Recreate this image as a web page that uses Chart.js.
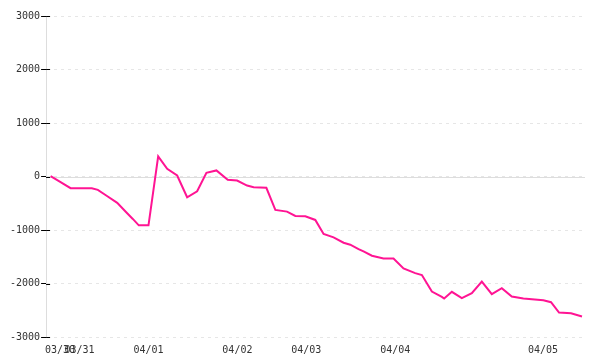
<!DOCTYPE html>
<html>
<head>
<meta charset="utf-8">
<script src="https://cdn.jsdelivr.net/npm/chart.js@4"></script>
<style>
  html, body { margin: 0; padding: 0; background: #fff; }
  #wrap { width: 600px; height: 360px; }
</style>
</head>
<body>
<div id="wrap"><canvas id="balance"></canvas></div>
<script>
// sample positions along the x axis
const xPos = [0, 1, 2, 4.13, 4.73, 5.57, 6.67, 7.57, 8.23, 8.83, 9.8, 10.77, 11.67, 12.67, 13.67, 14.67,
  15.6, 16.6, 17.73, 18.67, 19.67, 20.33, 21.6, 22.5, 23.67, 24.5, 25.5, 26.5, 27.33, 28.33, 29.33,
  30, 30.83, 31.33, 32.17, 33.33, 34.33, 35.33, 36.5, 37.17, 38.17, 39.17, 39.4, 40.17, 41.17, 42.17,
  43.17, 44.17, 45.17, 46.17, 47.33, 49.33, 50.1, 50.9, 52.1, 53.2];
// running value
const balance = [5, -107, -219, -219, -249, -356, -493, -669, -793, -913, -913, 375, 144, 19, -388, -276,
  69, 113, -62, -75, -169, -201, -212, -624, -656, -737, -744, -812, -1074, -1138, -1238,
  -1275, -1356, -1401, -1481, -1532, -1532, -1719, -1806, -1843, -2151, -2250, -2282, -2156, -2274, -2181,
  -1963, -2199, -2087, -2244, -2282, -2312, -2349, -2544, -2556, -2616];
// day labels and where they sit on the x axis
const tickPos = [0.95, 2.9, 9.8, 18.7, 25.6, 34.5, 49.3];
const tickLabels = ['03/30', '03/31', '04/01', '04/02', '04/03', '04/04', '04/05'];
const yTicks = [-3000, -2000, -1000, 0, 1000, 2000, 3000];

const FONT = { family: 'DejaVu Sans Mono', size: 10 };

// solid zero line + small black ticks across the y axis
const axisMarks = {
  id: 'axisMarks',
  beforeDatasetsDraw(chart) {
    const { ctx, chartArea, scales: { y } } = chart;
    ctx.save();
    const y0 = Math.round(y.getPixelForValue(0)) + 0.5;
    ctx.strokeStyle = '#dddddd';
    ctx.lineWidth = 1;
    ctx.beginPath();
    ctx.moveTo(chartArea.left, y0);
    ctx.lineTo(chartArea.right, y0);
    ctx.stroke();
    ctx.strokeStyle = '#000';
    yTicks.forEach(v => {
      const py = Math.round(y.getPixelForValue(v)) + 0.5;
      ctx.beginPath();
      ctx.moveTo(chartArea.left, py);
      ctx.lineTo(chartArea.left + 4, py);
      ctx.stroke();
    });
    ctx.restore();
  }
};

new Chart(document.getElementById('balance').getContext('2d'), {
  type: 'line',
  data: {
    datasets: [{
      data: xPos.map((x, i) => ({ x, y: balance[i] })),
      borderColor: '#ff1493',
      borderWidth: 2,
      pointRadius: 0,
      tension: 0,
      fill: false
    }]
  },
  options: {
    responsive: true,
    maintainAspectRatio: false,
    animation: false,
    layout: { padding: { left: 9, right: 15, top: 16, bottom: -3 } },
    plugins: { legend: { display: false }, tooltip: { enabled: false } },
    scales: {
      x: {
        type: 'linear',
        bounds: 'data',
        min: -0.45,
        max: 53.5,
        grid: { display: false, drawTicks: false },
        border: { display: false },
        afterBuildTicks: scale => { scale.ticks = tickPos.map(v => ({ value: v })); },
        ticks: {
          autoSkip: false,
          maxRotation: 0,
          padding: 7,
          color: '#333',
          font: FONT,
          callback: (v, i) => tickLabels[i]
        }
      },
      y: {
        min: -3000,
        max: 3000,
        afterBuildTicks: scale => { scale.ticks = yTicks.map(v => ({ value: v })); },
        grid: { color: '#e6e6e6', tickColor: '#000', tickLength: 5 },
        border: { color: '#dddddd', dash: [3, 4] },
        ticks: { padding: 1, color: '#333', font: FONT, callback: v => String(v) }
      }
    }
  },
  plugins: [axisMarks]
});
</script>
</body>
</html>
